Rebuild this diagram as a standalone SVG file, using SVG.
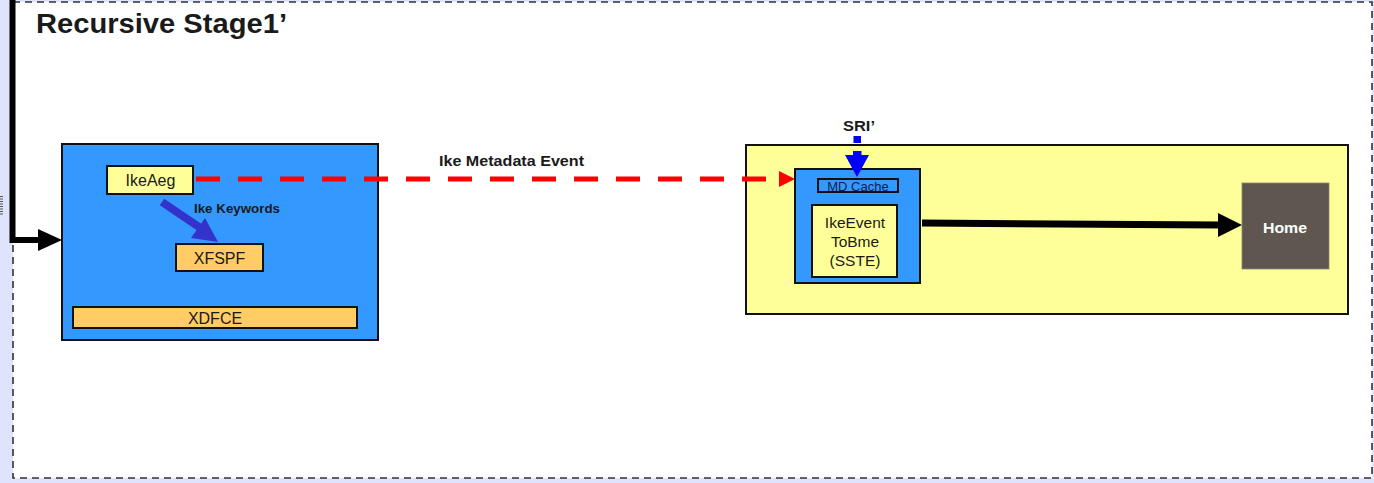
<svg xmlns="http://www.w3.org/2000/svg" width="1374" height="483" viewBox="0 0 1374 483">
  <style>
    .t { font-family: "Liberation Sans", Arial, sans-serif; fill: #1a1a1a; }
    .b { font-weight: bold; }
    .box { stroke: #111; stroke-width: 2; }
    .blue { fill: #3399ff; }
    .pale { fill: #ffff99; }
    .amber { fill: #ffcc66; }
  </style>

  <!-- page background and stage frame -->
  <rect x="0" y="0" width="1374" height="483" fill="#dfe3fb"/>
  <path d="M1.5,196 V215" stroke="#555" stroke-width="3" stroke-dasharray="1,1.5"/>
  <rect id="stage" x="13" y="2" width="1359" height="476" fill="#ffffff" stroke="#333" stroke-width="1.6" stroke-dasharray="7,5"/>
  <text class="t b" x="36" y="33" font-size="27" textLength="251" lengthAdjust="spacingAndGlyphs">Recursive Stage1’</text>

  <!-- left container -->
  <g id="left-block">
    <rect class="box blue" x="62" y="144" width="316" height="196"/>
  </g>
  <g id="ikeaeg">
    <rect class="box pale" x="107" y="166" width="86" height="28"/>
    <text class="t" x="150.5" y="186" font-size="16" text-anchor="middle">IkeAeg</text>
  </g>
  <g id="xfspf">
    <rect class="box amber" x="176" y="244" width="87" height="27"/>
    <text class="t" x="219.5" y="263.5" font-size="16" text-anchor="middle">XFSPF</text>
  </g>
  <g id="xdfce">
    <rect class="box amber" x="73" y="307" width="284" height="21"/>
    <text class="t" x="215" y="324" font-size="16" text-anchor="middle">XDFCE</text>
  </g>

  <!-- right container -->
  <g id="right-block">
    <rect class="box pale" x="746" y="145" width="602" height="169"/>
  </g>
  <g id="cache-block">
    <rect class="box blue" x="795" y="169" width="125" height="114"/>
  </g>
  <g id="md-cache">
    <rect class="box blue" x="818" y="179" width="80" height="13" stroke-width="1.6"/>
    <text class="t" x="858" y="191" font-size="13" text-anchor="middle" style="fill:#14204a">MD Cache</text>
  </g>
  <g id="ike-event">
    <rect class="box pale" x="812" y="205" width="85" height="72"/>
    <text class="t" x="855" y="228" font-size="15.5" text-anchor="middle">IkeEvent</text>
    <text class="t" x="855" y="247" font-size="15.5" text-anchor="middle">ToBme</text>
    <text class="t" x="855" y="266" font-size="15.5" text-anchor="middle">(SSTE)</text>
  </g>
  <g id="home">
    <rect x="1242" y="183" width="87" height="86" fill="#5f574f" stroke="#8a847e" stroke-width="0.8"/>
    <text class="t b" x="1263" y="233" font-size="15" textLength="44" lengthAdjust="spacingAndGlyphs" style="fill:#ffffff">Home</text>
  </g>

  <!-- connectors: shafts plus explicit arrowheads -->
  <g id="connectors">
    <!-- incoming flow into the left block -->
    <path d="M12.5,0 V240 H40" fill="none" stroke="#000" stroke-width="6"/>
    <polygon points="38,229 62,240 38,251" fill="#000"/>

    <!-- IkeAeg to XFSPF -->
    <path d="M162,202 L199,227" fill="none" stroke="#3333cc" stroke-width="8"/>
    <polygon points="191,238 218,242 205,218" fill="#3333cc"/>

    <!-- metadata event, dashed -->
    <path d="M196,179 H781" fill="none" stroke="#ff0000" stroke-width="5" stroke-dasharray="24,18"/>
    <polygon points="779,171 795,179 779,187" fill="#ff0000"/>

    <!-- SRI' into MD Cache, dashed -->
    <rect x="853.5" y="136" width="7.5" height="7" fill="#0000ff"/>
    <rect x="853" y="151" width="8.5" height="5" fill="#0000ff"/>
    <polygon points="845,155 869,155 857,177" fill="#0000ff"/>

    <!-- cache block to Home -->
    <path d="M922,223 L1220,225" fill="none" stroke="#000" stroke-width="7"/>
    <polygon points="1218,213 1242,225 1218,237" fill="#000"/>
  </g>

  <!-- connector labels -->
  <text class="t b" x="194" y="213" font-size="13" textLength="86" lengthAdjust="spacingAndGlyphs">Ike Keywords</text>
  <text class="t b" x="439" y="166" font-size="15" textLength="145" lengthAdjust="spacingAndGlyphs">Ike Metadata Event</text>
  <text class="t b" x="843" y="131" font-size="15" textLength="32" lengthAdjust="spacingAndGlyphs">SRI’</text>
</svg>
